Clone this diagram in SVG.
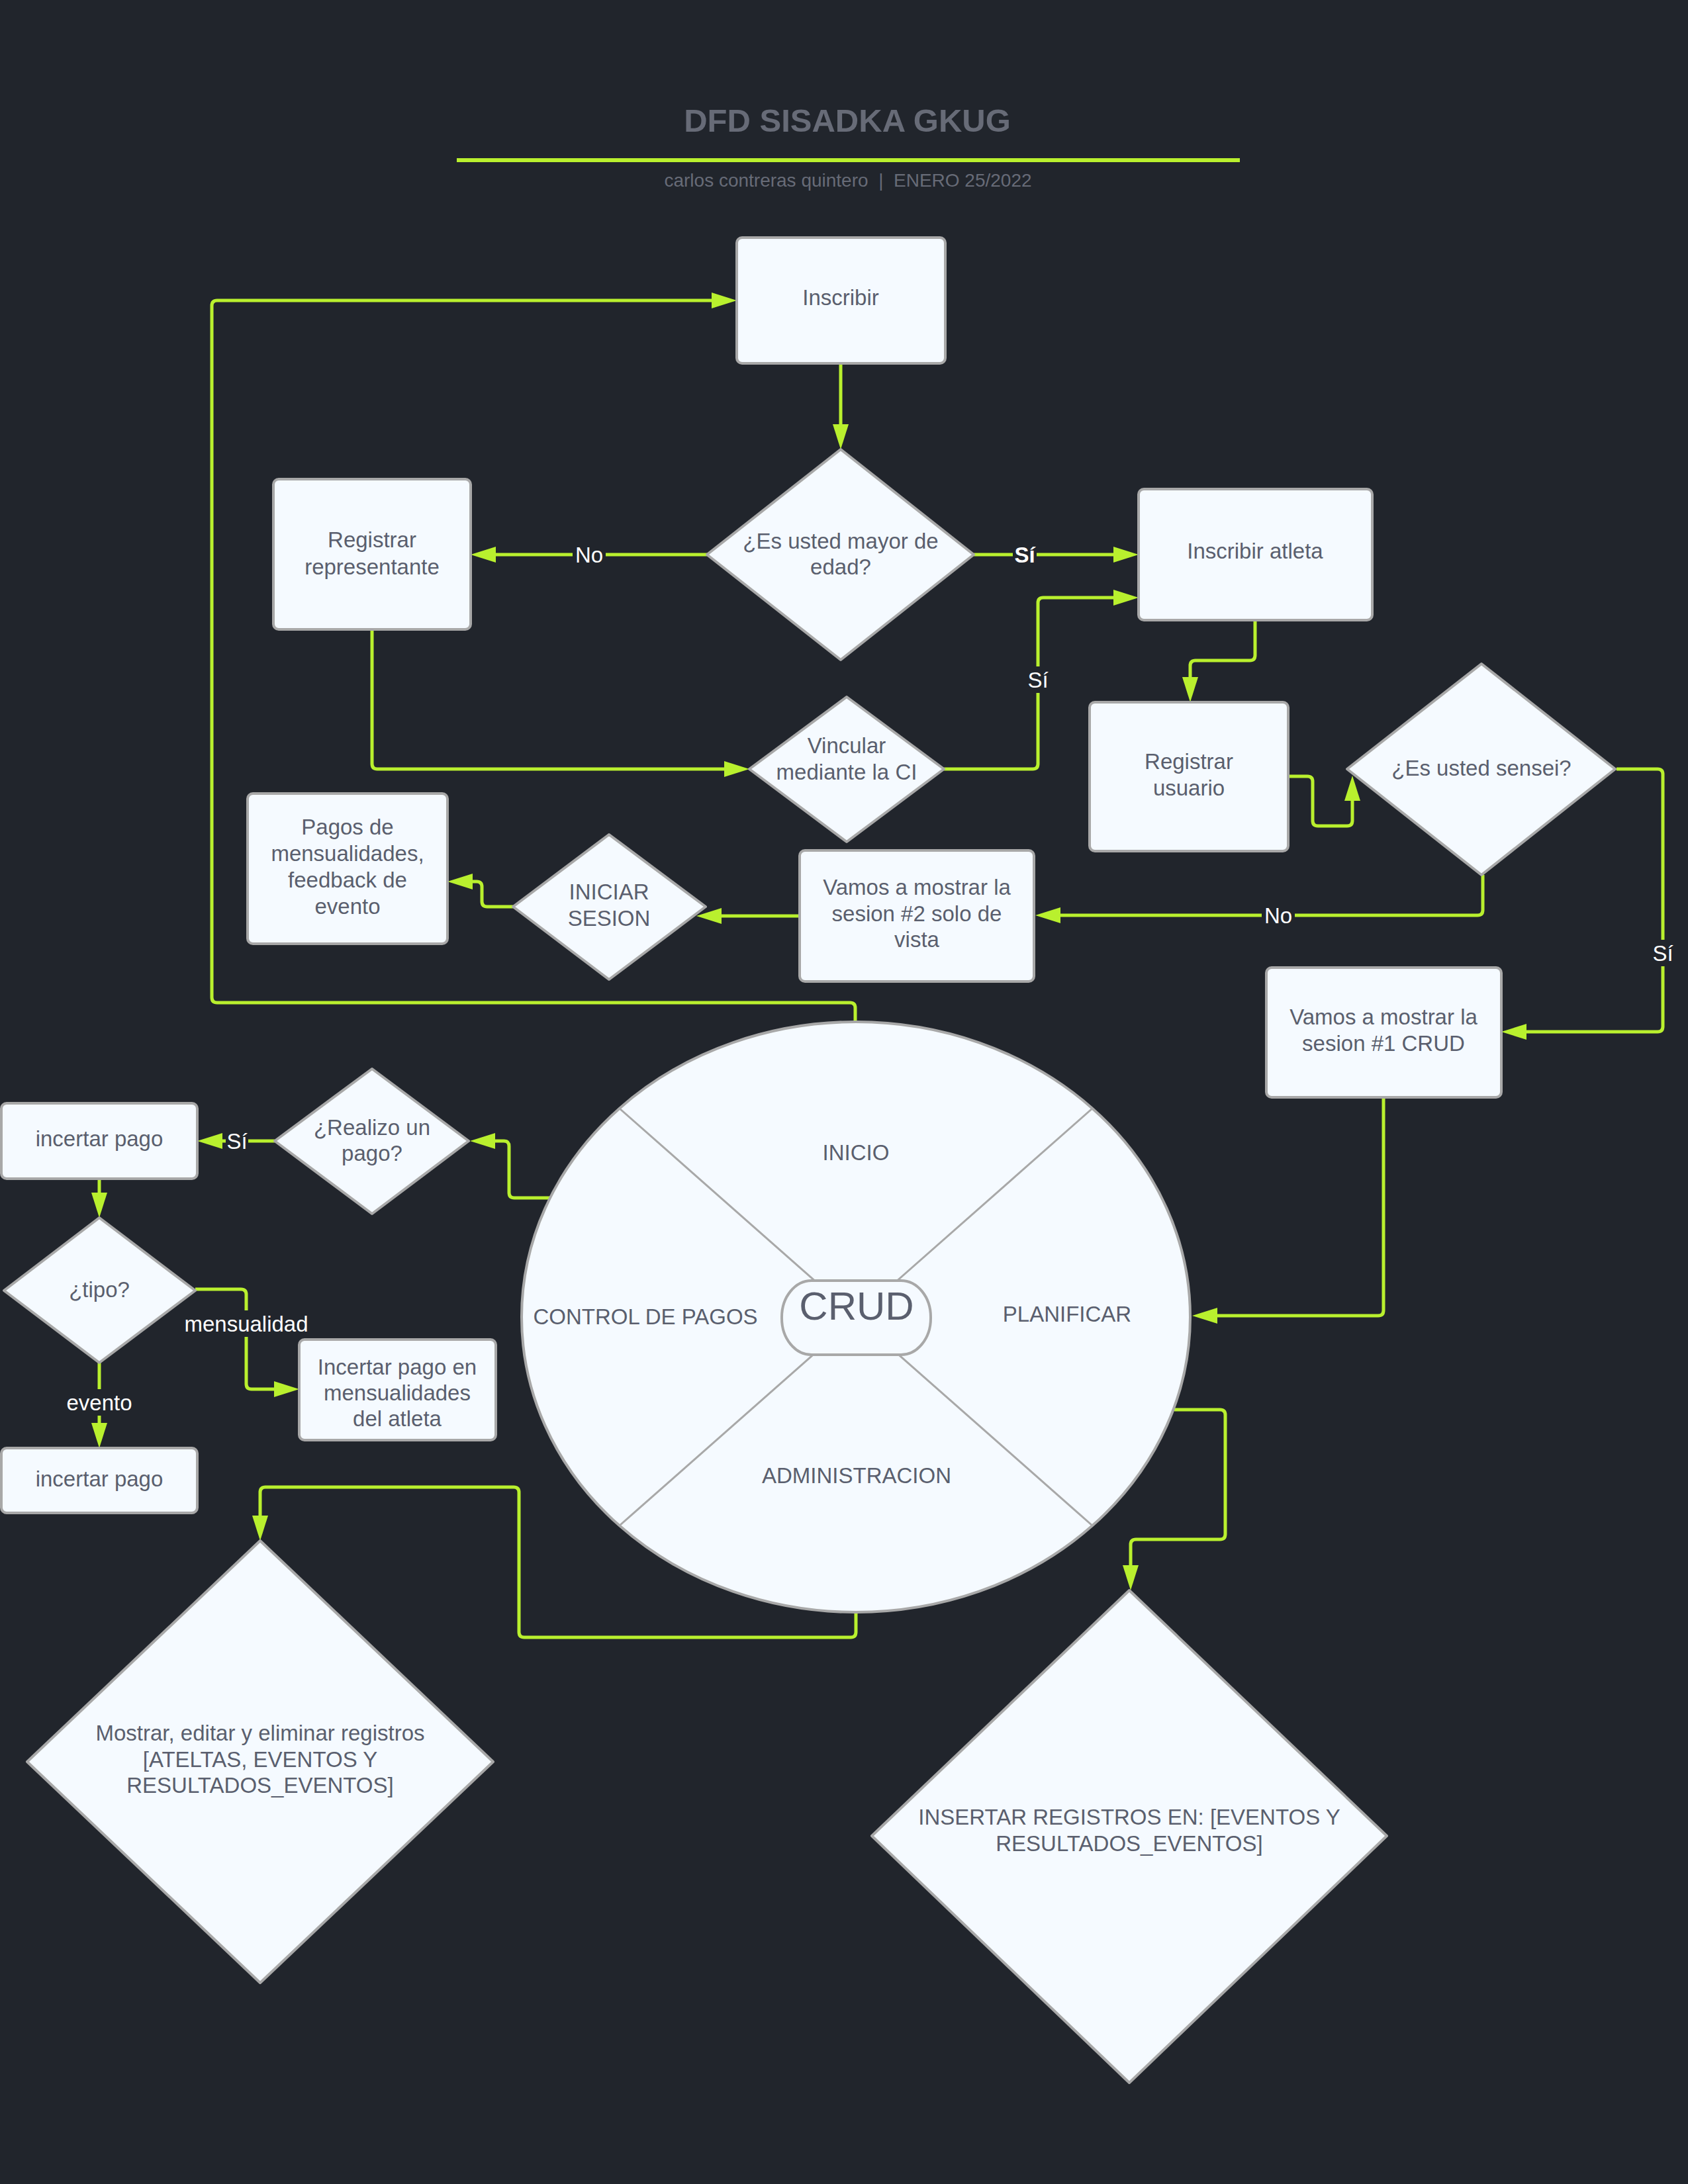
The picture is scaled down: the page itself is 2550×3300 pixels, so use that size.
<svg xmlns="http://www.w3.org/2000/svg" width="2550" height="3300" viewBox="0 0 2550 3300">
<style>
.bg{fill:#21252c}
.node{fill:#f5faff;stroke:#a8a8a8;stroke-width:4;stroke-linejoin:round}
.sep{stroke:#a8a8a8;stroke-width:3;fill:none}
.t{font-family:"Liberation Sans",Arial,sans-serif;font-size:33px;fill:#5a5f6e;text-anchor:middle}
.big{font-size:60px}
.lbl{font-family:"Liberation Sans",Arial,sans-serif;font-size:33px;fill:#ffffff;text-anchor:middle}
.conn path{fill:none;stroke:#b9f02e;stroke-width:5}
.lb{fill:#21252c}
</style>
<defs>
<marker id="ah" markerWidth="38" markerHeight="24" refX="18" refY="12" orient="auto" markerUnits="userSpaceOnUse"><path d="M0,0 L38,12 L0,24 Z" fill="#b9f02e"/></marker>
</defs>
<rect class="bg" x="0" y="0" width="2550" height="3300"/>

<g id="title">
<text x="1280" y="199" font-family="Liberation Sans,Arial,sans-serif" font-size="49" font-weight="bold" fill="#676b77" text-anchor="middle">DFD SISADKA GKUG</text>
<line x1="690" y1="242" x2="1873" y2="242" stroke="#b9f02e" stroke-width="6"/>
<text x="1281" y="282" font-family="Liberation Sans,Arial,sans-serif" font-size="28" fill="#676b77" text-anchor="middle" xml:space="preserve">carlos contreras quintero  |  ENERO 25/2022</text>
</g>

<g class="conn" id="connectors">
<path d="M1270 549 L1270 659" marker-end="url(#ah)"/>
<path d="M1068 838 L731 838" marker-end="url(#ah)"/>
<path d="M1471 838 L1700 838" marker-end="url(#ah)"/>
<path d="M562 951 L562 1154 Q562 1162 570 1162 L1112 1162" marker-end="url(#ah)"/>
<path d="M1426 1162 L1560 1162 Q1568 1162 1568 1154 L1568 911 Q1568 903 1576 903 L1700 903" marker-end="url(#ah)"/>
<path d="M1896 937 L1896 990 Q1896 998 1888 998 L1806 998 Q1798 998 1798 1006 L1798 1041" marker-end="url(#ah)"/>
<path d="M1948 1173 L1975 1173 Q1983 1173 1983 1181 L1983 1240 Q1983 1248 1991 1248 L2035 1248 Q2043 1248 2043 1240 L2043 1192" marker-end="url(#ah)"/>
<path d="M2240 1322 L2240 1375 Q2240 1383 2232 1383 L1584 1383" marker-end="url(#ah)"/>
<path d="M2442 1162 L2504 1162 Q2512 1162 2512 1170 L2512 1551 Q2512 1559 2504 1559 L2288 1559" marker-end="url(#ah)"/>
<path d="M1210 1384 L1072 1384" marker-end="url(#ah)"/>
<path d="M775 1370 L736 1370 Q728 1370 728 1362 L728 1340 Q728 1332 720 1332 L696 1332" marker-end="url(#ah)"/>
<path d="M2090 1658 L2090 1980 Q2090 1988 2082 1988 L1821 1988" marker-end="url(#ah)"/>
<path d="M1292 1544 L1292 1523 Q1292 1515 1284 1515 L328 1515 Q320 1515 320 1507 L320 462 Q320 454 328 454 L1093 454" marker-end="url(#ah)"/>
<path d="M831 1810 L777 1810 Q769 1810 769 1802 L769 1732 Q769 1724 761 1724 L730 1724" marker-end="url(#ah)"/>
<path d="M415 1724 L318 1724" marker-end="url(#ah)"/>
<path d="M150 1781 L150 1820" marker-end="url(#ah)"/>
<path d="M295 1948 L364 1948 Q372 1948 372 1956 L372 2091 Q372 2099 380 2099 L432 2099" marker-end="url(#ah)"/>
<path d="M150 2059 L150 2168" marker-end="url(#ah)"/>
<path d="M1774 2130 L1843 2130 Q1851 2130 1851 2138 L1851 2318 Q1851 2326 1843 2326 L1716 2326 Q1708 2326 1708 2334 L1708 2383" marker-end="url(#ah)"/>
<path d="M1293 2436 L1293 2466 Q1293 2474 1285 2474 L792 2474 Q784 2474 784 2466 L784 2255 Q784 2247 776 2247 L401 2247 Q393 2247 393 2255 L393 2308" marker-end="url(#ah)"/>
<rect class="lb" x="865" y="820" width="50" height="36"/><text class="lbl" x="890" y="850">No</text>
<rect class="lb" x="1530" y="820" width="36" height="36"/><text class="lbl" x="1548" y="850" font-weight="bold">Sí</text>
<rect class="lb" x="1550" y="1007" width="36" height="40"/><text class="lbl" x="1568" y="1039">Sí</text>
<rect class="lb" x="1906" y="1365" width="50" height="36"/><text class="lbl" x="1931" y="1395">No</text>
<rect class="lb" x="2494" y="1420" width="36" height="40"/><text class="lbl" x="2512" y="1452">Sí</text>
<rect class="lb" x="341" y="1706" width="34" height="36"/><text class="lbl" x="358" y="1736">Sí</text>
<rect class="lb" x="276" y="1980" width="194" height="40"/><text class="lbl" x="372" y="2012">mensualidad</text>
<rect class="lb" x="98" y="2099" width="104" height="40"/><text class="lbl" x="150" y="2131">evento</text>
</g>

<g id="inscribir"><rect class="node" x="1113" y="359" width="315" height="190" rx="8"/><text class="t" x="1270" y="461">Inscribir</text></g>
<g id="mayor-edad"><polygon class="node" points="1270,679 1471,838 1270,997 1068,838"/><text class="t" x="1270" y="829">¿Es usted mayor de</text><text class="t" x="1270" y="868">edad?</text></g>
<g id="registrar-representante"><rect class="node" x="413" y="724" width="298" height="227" rx="8"/><text class="t" x="562" y="827">Registrar</text><text class="t" x="562" y="868">representante</text></g>
<g id="inscribir-atleta"><rect class="node" x="1720" y="739" width="353" height="198" rx="8"/><text class="t" x="1896" y="844">Inscribir atleta</text></g>
<g id="vincular"><polygon class="node" points="1279,1053 1426,1162 1279,1272 1132,1162"/><text class="t" x="1279" y="1138">Vincular</text><text class="t" x="1279" y="1178">mediante la CI</text></g>
<g id="registrar-usuario"><rect class="node" x="1646" y="1061" width="300" height="225" rx="8"/><text class="t" x="1796" y="1162">Registrar</text><text class="t" x="1796" y="1202">usuario</text></g>
<g id="sensei"><polygon class="node" points="2238,1003 2440,1162 2238,1322 2035,1162"/><text class="t" x="2238" y="1172">¿Es usted sensei?</text></g>
<g id="sesion2"><rect class="node" x="1208" y="1285" width="354" height="198" rx="8"/><text class="t" x="1385" y="1352">Vamos a mostrar la</text><text class="t" x="1385" y="1392">sesion #2 solo de</text><text class="t" x="1385" y="1431">vista</text></g>
<g id="iniciar-sesion"><polygon class="node" points="920,1261 1066,1370 920,1480 775,1370"/><text class="t" x="920" y="1359">INICIAR</text><text class="t" x="920" y="1399">SESION</text></g>
<g id="pagos"><rect class="node" x="374" y="1199" width="302" height="227" rx="8"/><text class="t" x="525" y="1261">Pagos de</text><text class="t" x="525" y="1301">mensualidades,</text><text class="t" x="525" y="1341">feedback de</text><text class="t" x="525" y="1381">evento</text></g>
<g id="sesion1"><rect class="node" x="1913" y="1462" width="355" height="196" rx="8"/><text class="t" x="2090" y="1548">Vamos a mostrar la</text><text class="t" x="2090" y="1588">sesion #1 CRUD</text></g>

<g id="crud">
<ellipse class="node" cx="1293" cy="1990" rx="505" ry="446"/>
<line class="sep" x1="936" y1="1675" x2="1293" y2="1990"/>
<line class="sep" x1="1650" y1="1675" x2="1293" y2="1990"/>
<line class="sep" x1="936" y1="2305" x2="1293" y2="1990"/>
<line class="sep" x1="1650" y1="2305" x2="1293" y2="1990"/>
<rect class="node" x="1181" y="1935" width="225" height="112" rx="45" ry="55"/>
<text class="t big" x="1294" y="1994">CRUD</text>
<text class="t" x="1293" y="1753">INICIO</text>
<text class="t" x="975" y="2001">CONTROL DE PAGOS</text>
<text class="t" x="1612" y="1997">PLANIFICAR</text>
<text class="t" x="1294" y="2241">ADMINISTRACION</text>
</g>

<g id="realizo-pago"><polygon class="node" points="562,1615 708,1724 562,1834 415,1724"/><text class="t" x="562" y="1715">¿Realizo un</text><text class="t" x="562" y="1754">pago?</text></g>
<g id="incertar-pago-1"><rect class="node" x="2" y="1667" width="296" height="114" rx="8"/><text class="t" x="150" y="1732">incertar pago</text></g>
<g id="tipo"><polygon class="node" points="150,1840 295,1950 150,2059 6,1950"/><text class="t" x="150" y="1960">¿tipo?</text></g>
<g id="incertar-mensualidades"><rect class="node" x="452" y="2024" width="297" height="152" rx="8"/><text class="t" x="600" y="2077">Incertar pago en</text><text class="t" x="600" y="2116">mensualidades</text><text class="t" x="600" y="2155">del atleta</text></g>
<g id="incertar-pago-2"><rect class="node" x="2" y="2188" width="296" height="98" rx="8"/><text class="t" x="150" y="2246">incertar pago</text></g>
<g id="mostrar"><polygon class="node" points="393,2328 745,2662 393,2996 41,2662"/><text class="t" x="393" y="2630">Mostrar, editar y eliminar registros</text><text class="t" x="393" y="2670">[ATELTAS, EVENTOS Y</text><text class="t" x="393" y="2709">RESULTADOS_EVENTOS]</text></g>
<g id="insertar"><polygon class="node" points="1706,2403 2095,2774 1706,3147 1317,2774"/><text class="t" x="1706" y="2757">INSERTAR REGISTROS EN: [EVENTOS Y</text><text class="t" x="1706" y="2797">RESULTADOS_EVENTOS]</text></g>
</svg>
